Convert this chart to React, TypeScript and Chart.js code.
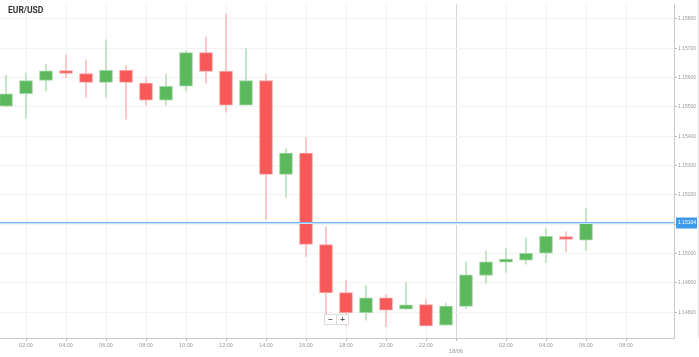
import React, { useEffect, useRef } from "react";
import { Chart, registerables } from "chart.js";
Chart.register(...registerables);

const opens = [1.15503, 1.15545, 1.1559, 1.15624, 1.15614, 1.15584, 1.15625, 1.15581, 1.15523, 1.15571, 1.15685, 1.15621, 1.15506, 1.1559, 1.1527, 1.15343, 1.15031, 1.14867, 1.14798, 1.14849, 1.1481, 1.14826, 1.14756, 1.1482, 1.14925, 1.14971, 1.14977, 1.15001, 1.15058, 1.15046];
const highs = [1.15608, 1.15615, 1.15645, 1.15676, 1.1566, 1.15729, 1.15641, 1.15601, 1.15611, 1.15691, 1.15738, 1.15817, 1.15699, 1.15612, 1.15357, 1.15396, 1.1509, 1.14908, 1.14891, 1.14861, 1.14902, 1.14843, 1.14831, 1.14972, 1.15009, 1.15017, 1.15054, 1.15084, 1.15074, 1.15155];
const lows = [1.155, 1.15461, 1.15555, 1.15601, 1.15533, 1.15533, 1.15458, 1.15506, 1.15506, 1.15555, 1.15581, 1.15482, 1.15506, 1.15116, 1.15191, 1.1499, 1.1479, 1.14753, 1.14773, 1.14751, 1.1481, 1.14753, 1.14756, 1.14812, 1.14899, 1.14936, 1.14964, 1.14969, 1.15006, 1.15011];
const closes = [1.15545, 1.1559, 1.15623, 1.15614, 1.15584, 1.15625, 1.15584, 1.15523, 1.1557, 1.15685, 1.15621, 1.15506, 1.1559, 1.1527, 1.15343, 1.15031, 1.14867, 1.14798, 1.14849, 1.14807, 1.14825, 1.14753, 1.14821, 1.14927, 1.14972, 1.14981, 1.15001, 1.15059, 1.15048, 1.15104];

const yTicks = [1.158, 1.157, 1.156, 1.155, 1.154, 1.153, 1.152, 1.151, 1.15, 1.149, 1.148];
const xTickPos = [1, 3, 5, 7, 9, 11, 13, 15, 17, 19, 21, 22.5, 25, 27, 29, 31];
const xTickLabels = ["02:00", "04:00", "06:00", "08:00", "10:00", "12:00", "14:00", "16:00", "18:00", "20:00", "22:00", "18/06", "02:00", "04:00", "06:00", "08:00"];
const dayTick = "18/06";
const title = "EUR/USD";

const GREEN = "#5cb85c";
const GREEN_EDGE = "#9ed49e";
const GREEN_WICK = "#b9e0b9";
const RED = "#f75858";
const RED_EDGE = "#fb9c9c";
const RED_WICK = "#fbbcbc";

export default function App() {
  const ref = useRef<HTMLCanvasElement>(null);
  useEffect(() => {
    document.body.style.margin = "0";
    const up = opens.map((o, i) => closes[i] >= o);
    const bodies = opens.map((o, i) => ({ x: i, y: [o, closes[i]] }));
    const wicks = lows.map((l, i) => ({ x: i, y: [l, highs[i]] }));
    const last = closes[closes.length - 1];

    const overlay = {
      id: "overlay",
      afterDraw(chart: any) {
        const { ctx, chartArea, scales } = chart;
        const yi = Math.round(scales.y.getPixelForValue(last));
        const w = chartArea.right - chartArea.left;
        ctx.save();
        ctx.globalAlpha = 1;
        ctx.setLineDash([]);
        ctx.fillStyle = "rgb(200,226,248)";
        ctx.fillRect(chartArea.left, yi, w, 1);
        ctx.fillStyle = "rgb(115,182,240)";
        ctx.fillRect(chartArea.left, yi - 1, w, 1);
        ctx.fillStyle = "rgb(61,155,233)";
        ctx.fillRect(chartArea.right + 2, yi - 5.5, 21, 11);
        ctx.fillStyle = "#ffffff";
        ctx.font = "5px 'Liberation Sans'";
        ctx.textBaseline = "middle";
        ctx.textAlign = "left";
        ctx.fillText(last.toFixed(5), chartArea.right + 4, yi);
        // right edge line
        ctx.fillStyle = "#e6e6e6";
        ctx.fillRect(698, 0, 1, chartArea.bottom);
        // title
        ctx.fillStyle = "#333333";
        ctx.font = "bold 8.5px Roboto";
        ctx.textBaseline = "middle";
        ctx.fillText(title, 8, 11);
        // zoom buttons
        const bx = 324.5, by = 314.5, bw = 24, bh = 10;
        ctx.fillStyle = "#ffffff";
        ctx.fillRect(bx, by, bw, bh);
        ctx.strokeStyle = "#dddddd";
        ctx.lineWidth = 1;
        ctx.strokeRect(bx, by, bw, bh);
        ctx.beginPath();
        ctx.moveTo(bx + 12, by);
        ctx.lineTo(bx + 12, by + bh);
        ctx.stroke();
        ctx.fillStyle = "#555555";
        ctx.font = "bold 8px 'Liberation Sans'";
        ctx.textAlign = "center";
        ctx.fillText("\u2212", bx + 6, by + 5);
        ctx.fillText("+", bx + 18, by + 5);
        ctx.restore();
      },
    };

    const chart = new Chart(ref.current!, {
      type: "bar",
      data: {
        datasets: [
          {
            data: bodies as any,
            backgroundColor: up.map((u) => (u ? GREEN : RED)),
            borderColor: up.map((u) => (u ? GREEN_EDGE : RED_EDGE)),
            borderWidth: 1,
            borderSkipped: false,
            barThickness: 13,
            grouped: false,
          } as any,
          {
            data: wicks as any,
            backgroundColor: up.map((u) => (u ? GREEN_WICK : RED_WICK)),
            borderWidth: 0,
            barThickness: 1,
            grouped: false,
          } as any,
        ],
      },
      options: {
        animation: false,
        responsive: false,
        maintainAspectRatio: false,
        layout: { padding: 0 },
        plugins: { legend: { display: false }, tooltip: { enabled: false }, title: { display: false } },
        scales: {
          x: {
            type: "linear",
            min: -0.3,
            max: 33.4,
            offset: false,
            grid: {
              offset: false,
              color: (c: any) => (c.tick && c.tick.value === 22.5 ? "#d6d6d6" : "#f2f2f2"),
              tickColor: "#bbbbbb",
              tickLength: 3,
            },
            border: { color: "#c8c8c8" },
            afterBuildTicks: (s: any) => {
              s.ticks = xTickPos.map((v) => ({ value: v }));
            },
            afterFit: (s: any) => {
              s.height = 19;
            },
            ticks: {
              autoSkip: false,
              maxRotation: 0,
              padding: 1,
              color: "#999999",
              font: { size: 5.5, family: "'Liberation Sans'" },
              callback: (_v: any, i: number) => (xTickLabels[i] === dayTick ? ["", dayTick] : xTickLabels[i]),
            },
          },
          y: {
            position: "right",
            min: 1.14712,
            max: 1.15851,
            beginAtZero: false,
            grid: { color: "#f2f2f2", tickColor: "#bbbbbb", tickLength: 3 },
            border: { color: "#c8c8c8" },
            afterBuildTicks: (s: any) => {
              s.ticks = yTicks.map((v) => ({ value: v }));
            },
            afterFit: (s: any) => {
              s.width = 25;
            },
            ticks: {
              padding: 1,
              color: "#999999",
              font: { size: 5, family: "'Liberation Sans'" },
              callback: (v: any) => Number(v).toFixed(5),
            },
          },
        },
      },
      plugins: [overlay],
    });
    return () => chart.destroy();
  }, []);
  return (
    <div style={{ width: 699, height: 357 }}>
      <canvas ref={ref} width={699} height={357} style={{ display: "block" }} />
    </div>
  );
}
